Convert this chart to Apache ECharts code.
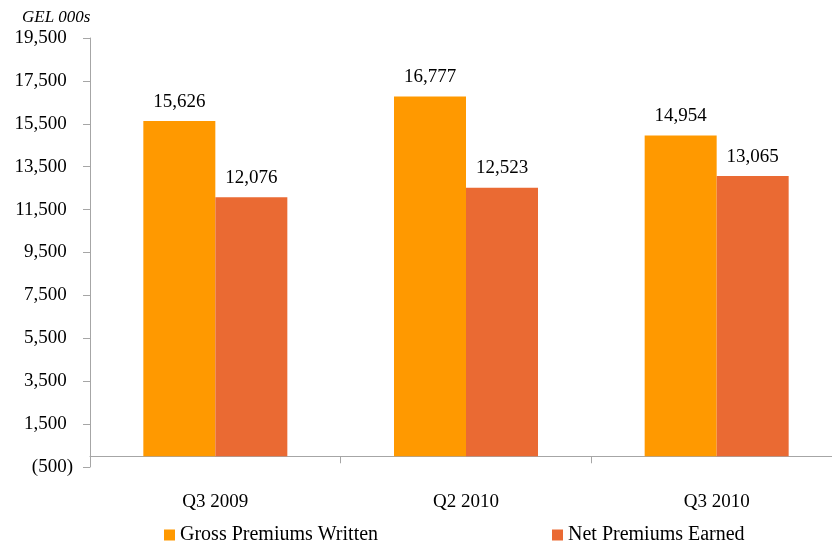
<!DOCTYPE html>
<html><head><meta charset="utf-8">
<script src="https://cdn.jsdelivr.net/npm/echarts@6/dist/echarts.min.js"></script>
<style>html,body{margin:0;padding:0;background:#fff;overflow:hidden}#c{width:842px;height:546px}</style>
</head><body><div id="c"></div>
<script>
const categories = ['Q3 2009', 'Q2 2010', 'Q3 2010'];
const grossPremiumsWritten = [15626, 16777, 14954];
const netPremiumsEarned = [12076, 12523, 13065];
const seriesNames = ['Gross Premiums Written', 'Net Premiums Earned'];
const unitLabel = 'GEL 000s';

const FONT = 'Liberation Serif';
const fmt = v => Math.abs(v).toString().replace(/\B(?=(\d{3})+(?!\d))/g, ',');

const chart = echarts.init(document.getElementById('c'));
chart.setOption({
  animation: false,
  textStyle: { fontFamily: FONT },
  title: {
    text: unitLabel, left: 17, top: 4,
    textStyle: { fontFamily: FONT, fontStyle: 'italic', fontWeight: 'normal', fontSize: 17, color: '#000' }
  },
  grid: { left: 90, right: 0, top: 38, bottom: 79, containLabel: false },
  legend: [
    { data: [seriesNames[0]], left: 159, top: 520, itemWidth: 11, itemHeight: 11, itemGap: 6,
      textStyle: { fontFamily: FONT, fontSize: 20, color: '#000' }, icon: 'rect' },
    { data: [seriesNames[1]], left: 547, top: 520, itemWidth: 11, itemHeight: 11, itemGap: 6,
      textStyle: { fontFamily: FONT, fontSize: 20, color: '#000' }, icon: 'rect' }
  ],
  xAxis: {
    type: 'category', data: categories,
    axisLine: { onZero: true, lineStyle: { color: '#A6A6A6', width: 1 } },
    axisTick: { show: true, length: 7, lineStyle: { color: '#A6A6A6' } },
    axisLabel: { color: '#000', fontFamily: FONT, fontSize: 19, margin: 26 }
  },
  yAxis: {
    type: 'value', min: -500, max: 19500, interval: 2000,
    splitLine: { show: false },
    axisLine: { show: true, lineStyle: { color: '#A6A6A6', width: 1 } },
    axisTick: { show: true, length: 7, lineStyle: { color: '#A6A6A6' } },
    axisLabel: {
      margin: 17, color: '#000', fontFamily: FONT, fontSize: 19,
      formatter: v => v < 0 ? '{n|(' + fmt(v) + ')}' : '{n|' + fmt(v) + '}{h|)}',
      rich: {
        n: { fontFamily: FONT, fontSize: 19, color: '#000' },
        h: { fontFamily: FONT, fontSize: 19, color: 'rgba(0,0,0,0)' }
      }
    }
  },
  series: [
    { name: seriesNames[0], type: 'bar', data: grossPremiumsWritten, barWidth: 72, barGap: '0%',
      itemStyle: { color: '#FF9900' },
      label: { show: true, position: 'top', distance: 10, color: '#000', fontFamily: FONT, fontSize: 19, formatter: p => fmt(p.value) } },
    { name: seriesNames[1], type: 'bar', data: netPremiumsEarned, barWidth: 72, barGap: '0%',
      itemStyle: { color: '#EA6A33' },
      label: { show: true, position: 'top', distance: 10, color: '#000', fontFamily: FONT, fontSize: 19, formatter: p => fmt(p.value) } }
  ]
});
</script></body></html>
